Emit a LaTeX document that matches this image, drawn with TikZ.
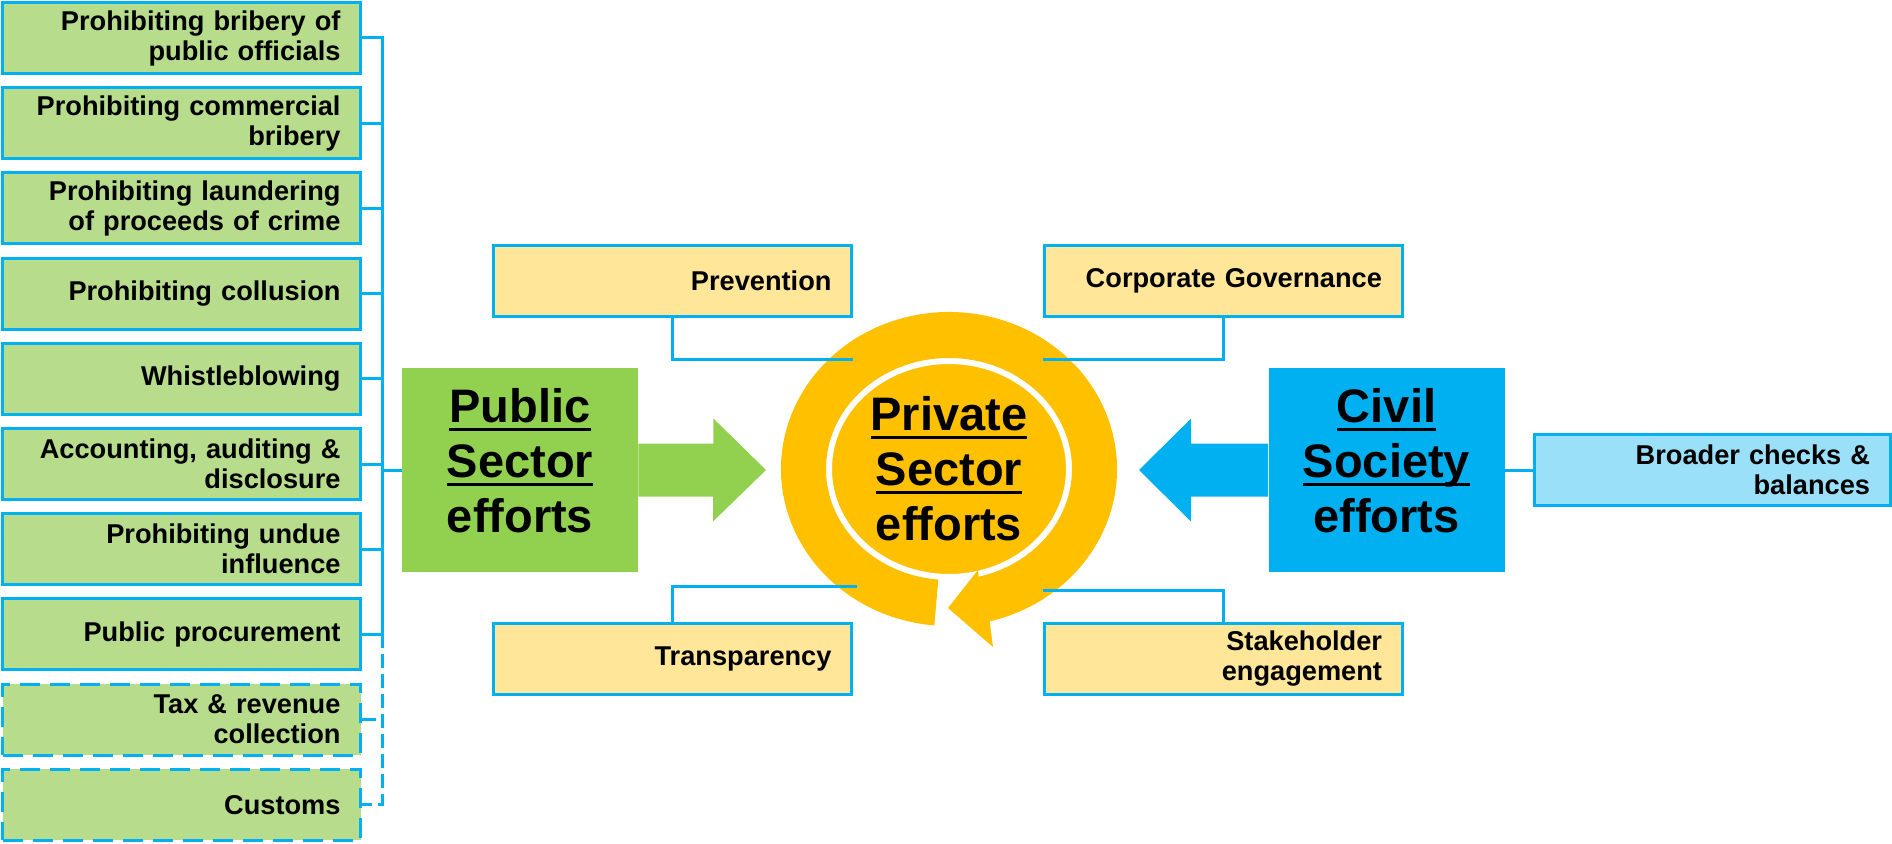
\documentclass[tikz,border=0pt]{standalone}
\usepackage{fontspec}
\setmainfont{Liberation Sans}
\usepackage{xcolor}
\usepackage{tikz}
\usetikzlibrary{shapes.geometric,arrows.meta}

\definecolor{lawgreen}{HTML}{B7DD8C}
\definecolor{pubgreen}{HTML}{92D050}
\definecolor{linkblue}{HTML}{00B0F0}
\definecolor{boxyellow}{HTML}{FFE699}
\definecolor{ringyellow}{HTML}{FFC000}
\definecolor{checkblue}{HTML}{9BE0F9}

\newcommand\lawfont{\fontsize{13.6pt}{15pt}\selectfont\bfseries}
\newcommand\effortfont{\fontsize{23.5pt}{27.5pt}\selectfont\bfseries}
\newsavebox\ulbox
\newcommand\ulword[1]{\sbox\ulbox{#1}\rlap{\rule[-4.2pt]{\wd\ulbox}{1.7pt}}\usebox\ulbox}

\begin{document}
\begin{tikzpicture}[x=0.5pt,y=0.5pt,
    link/.style={draw=linkblue,line width=1.5pt},
    law/.style={link,fill=lawgreen,text width=159pt,inner xsep=10pt,inner ysep=0pt,
                minimum height=35.5pt,align=right,font=\lawfont},
    lawdash/.style={law,dash pattern=on 10pt off 5pt},
    act/.style={law,fill=boxyellow},
    check/.style={law,fill=checkblue,text width=157.75pt},
    efforts/.style={minimum width=118pt,minimum height=102pt,inner sep=0pt},
    bigtext/.style={font=\effortfont,align=center,inner sep=0pt},
    privdisc/.style={ellipse,draw=white,line width=3pt,fill=ringyellow,inner sep=0pt,
                     minimum width=120pt,minimum height=108pt,font=\effortfont,align=center}]
  \useasboundingbox (0,0) rectangle (1892,843);

  % legal framework column
  \node[law] (law1) at (181.5,805) {Prohibiting bribery of\\public officials};
  \node[law] (law2) at (181.5,719.8) {Prohibiting commercial\\bribery};
  \node[law] (law3) at (181.5,634.6) {Prohibiting laundering\\of proceeds of crime};
  \node[law] (law4) at (181.5,549.4) {Prohibiting collusion};
  \node[law] (law5) at (181.5,464.2) {Whistleblowing};
  \node[law] (law6) at (181.5,379) {Accounting, auditing \&\\disclosure};
  \node[law] (law7) at (181.5,293.8) {Prohibiting undue\\influence};
  \node[law] (law8) at (181.5,208.6) {Public procurement};
  \node[lawdash] (law9) at (181.5,123.4) {Tax \& revenue\\collection};
  \node[lawdash] (law10) at (181.5,38.2) {Customs};

  % the three sectors
  \node[efforts,fill=pubgreen] (public) at (520,373) {};
  \node[bigtext] (publictext) at ([yshift=4.5pt]public.center) {\ulword{Public}\\\ulword{Sector}\\efforts};
  \node[efforts,fill=linkblue] (civil) at (1386.5,373) {};
  \node[bigtext] (civiltext) at ([yshift=4.5pt]civil.center) {\ulword{Civil}\\\ulword{Society}\\efforts};
  \node[privdisc] (private) at (949,374) {\ulword{Private}\\\ulword{Sector}\\efforts};

  % circular arrow round the private sector
  \begin{scope}[shift={(949,374)}]
    \fill[ringyellow] (-76:168 and 157) arc[start angle=-76,end angle=265,x radius=168,y radius=157]
      -- (265:123 and 111) arc[start angle=265,end angle=-76,x radius=123,y radius=111]
      -- (29,-101) -- (-1,-139) -- (44,-178) -- cycle;
  \end{scope}

  \node[act] (prevention) at (672.5,562) {Prevention};
  \node[act] (transparency) at (672.5,184) {Transparency};
  \node[act] (governance) at (1223,562) {Corporate Governance};
  \node[act] (stakeholder) at (1223,184) {Stakeholder\\engagement};
  \node[check] (broader) at (1712.25,373) {Broader checks \&\\balances};

  % block arrows
  \coordinate (pubtip) at (766,373);
  \coordinate (civtip) at (1139,373);
  \fill[pubgreen] ([yshift=13.25pt]public.east) -- ++(75,0) -- ++(0,25) -- (pubtip)
    -- ++(-53,-51.5) -- ++(0,25) -- ([yshift=-13.25pt]public.east) -- cycle;
  \fill[linkblue] ([yshift=13.25pt]civil.west) -- ++(-77,0) -- ++(0,25) -- (civtip)
    -- ++(52,-51.5) -- ++(0,25) -- ([yshift=-13.25pt]civil.west) -- cycle;

  % bracket joining the laws
  \coordinate (bus) at (382,0);
  \draw[link] (law1.east) -- (law1.east -| bus) -- (law8.east -| bus) -- (law8.east);
  \foreach \i in {2,...,7}
    \draw[link] (law\i.east) -- (law\i.east -| bus);
  \draw[link] (public.west) -- (public.west -| bus);
  \draw[link,dash pattern=on 7pt off 3pt] (law8.east -| bus) -- (law10.east -| bus) -- (law10.east);
  \draw[link,dash pattern=on 7pt off 3pt] (law9.east) -- (law9.east -| bus);

  % links to the private sector ring
  \coordinate (pv) at (853,484);
  \coordinate (tp) at (857,257);
  \coordinate (gv) at (1043,484);
  \coordinate (sh) at (1043,253);
  \draw[link] (prevention.south) |- (pv);
  \draw[link] (transparency.north) |- (tp);
  \draw[link] (governance.south) |- (gv);
  \draw[link] (stakeholder.north) |- (sh);
  \draw[link] (civil.east) -- (broader.west);
\end{tikzpicture}
\end{document}
